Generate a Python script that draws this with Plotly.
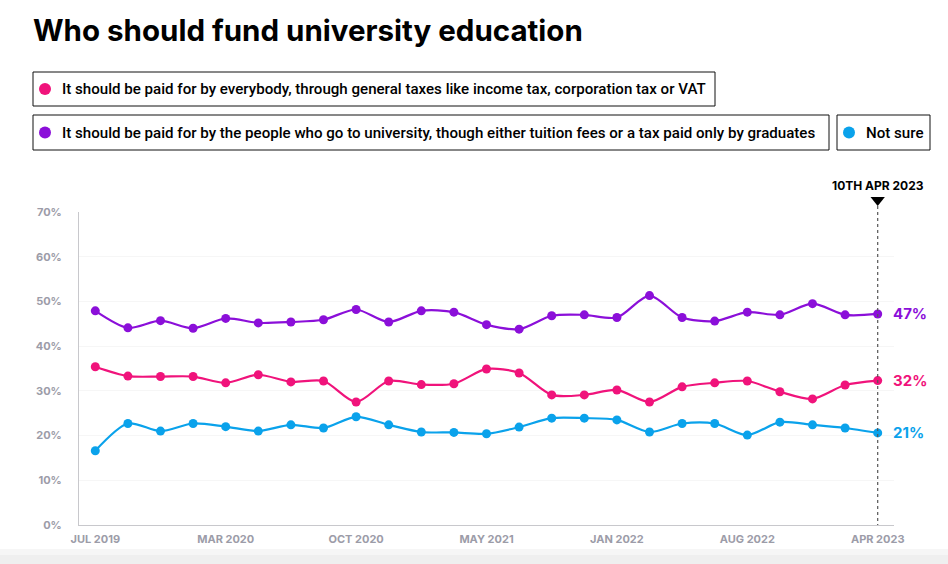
import plotly.graph_objects as go

# ---- data ----
dates = ["Jul 2019", "Sep 2019", "Nov 2019", "Jan 2020", "Mar 2020", "May 2020", "Jul 2020",
         "Aug 2020", "Oct 2020", "Dec 2020", "Jan 2021", "Mar 2021", "May 2021", "Jul 2021",
         "Sep 2021", "Nov 2021", "Jan 2022", "Mar 2022", "Apr 2022", "Jun 2022", "Aug 2022",
         "Oct 2022", "Dec 2022", "Feb 2023", "Apr 2023"]
general_taxes = [35.4, 33.3, 33.2, 33.2, 31.8, 33.6, 32.0, 32.2, 27.5, 32.2, 31.4, 31.6, 34.9,
                 34.0, 29.1, 29.1, 30.2, 27.5, 30.9, 31.8, 32.2, 29.8, 28.2, 31.3, 32.3]
students_pay = [47.9, 44.1, 45.7, 44.0, 46.2, 45.2, 45.4, 45.9, 48.2, 45.4, 47.9, 47.6, 44.8,
                43.8, 46.8, 47.0, 46.4, 51.3, 46.4, 45.6, 47.6, 47.0, 49.5, 47.0, 47.2]
not_sure = [16.6, 22.7, 21.0, 22.7, 22.0, 21.0, 22.4, 21.7, 24.2, 22.4, 20.8, 20.7, 20.4,
            21.9, 23.9, 23.9, 23.5, 20.8, 22.7, 22.7, 20.1, 23.0, 22.4, 21.7, 20.6]
series_names = [
    "It should be paid for by everybody, through general taxes like income tax, corporation tax or VAT",
    "It should be paid for by the people who go to university, though either tuition fees or a tax paid only by graduates",
    "Not sure",
]
end_labels = ["32%", "47%", "21%"]
tick_idx = [0, 4, 8, 12, 16, 20, 24]
tick_text = ["JUL 2019", "MAR 2020", "OCT 2020", "MAY 2021", "JAN 2022", "AUG 2022", "APR 2023"]
y_ticks = [0, 10, 20, 30, 40, 50, 60, 70]
marker_label = "10TH APR 2023"

colors = ["#f0137b", "#8b0fd9", "#0aa2eb"]

W, H = 948, 564
ML, MR, MT, MB = 79, 54, 212, 39
PW, PH = W - ML - MR, H - MT - MB


def px(x):
    return (x - ML) / PW


def py(y):
    return (H - MB - y) / PH


x_idx = list(range(len(dates)))
fig = go.Figure()
for name, vals, c in zip(series_names, [general_taxes, students_pay, not_sure], colors):
    fig.add_trace(go.Scatter(
        x=x_idx, y=vals, name=name, mode="lines+markers",
        line=dict(color=c, width=2.2, shape="spline", smoothing=0.8),
        marker=dict(color=c, size=9),
        customdata=dates, hovertemplate="%{customdata}: %{y:.0f}%<extra></extra>",
        showlegend=False,
    ))

shapes = []
annotations = []

# title
annotations.append(dict(
    text="<b>Who should fund university education</b>", xref="paper", yref="paper",
    x=px(31), y=py(30), xanchor="left", yanchor="middle", showarrow=False,
    font=dict(family="Inter", size=29.5, color="#000000", weight=800),
))

# legend boxes
legend_boxes = [
    (33, 715, 72, 106),
    (33, 829, 115, 150),
    (837, 930, 115, 150),
]
for (x0, x1, y0, y1), name, c in zip(legend_boxes, series_names, colors):
    shapes.append(dict(type="rect", xref="paper", yref="paper",
                       x0=px(x0), x1=px(x1), y0=py(y0), y1=py(y1),
                       line=dict(color="#111111", width=1), fillcolor="white", layer="above"))
    cy = (y0 + y1) / 2
    shapes.append(dict(type="circle", xref="paper", yref="paper",
                       x0=px(x0 + 6), x1=px(x0 + 18), y0=py(cy - 6), y1=py(cy + 6),
                       line=dict(color=c, width=0), fillcolor=c, layer="above"))
    annotations.append(dict(
        text=name, xref="paper", yref="paper", x=px(x0 + 27), y=py(cy),
        xanchor="left", yanchor="middle", showarrow=False,
        font=dict(family="Roboto", size=15.1, color="#000000", weight=500),
    ))

# current-date marker
last = len(dates) - 1
shapes.append(dict(type="line", xref="x", yref="paper", x0=last, x1=last,
                   y0=py(206), y1=0, line=dict(color="#555555", width=1.2, dash="dot")))
shapes.append(dict(type="path", xref="x", yref="paper",
                   path=f"M {last-0.22},{py(197)} L {last+0.22},{py(197)} L {last},{py(206)} Z",
                   fillcolor="#000000", line=dict(width=0)))
annotations.append(dict(
    text=f"<b>{marker_label}</b>", xref="x", yref="paper", x=last, y=py(185),
    xanchor="center", yanchor="middle", showarrow=False,
    font=dict(family="Inter", size=12, color="#000000"),
))

# end labels
for vals, lab, c in zip([general_taxes, students_pay, not_sure], end_labels, colors):
    annotations.append(dict(
        text=f"<b>{lab}</b>", xref="x", yref="y", x=last, y=vals[-1],
        xanchor="left", yanchor="middle", xshift=13, showarrow=False,
        font=dict(family="Inter", size=15, color=c, weight=800),
    ))

# bottom fade band
shapes.append(dict(type="rect", xref="paper", yref="paper", x0=px(0), x1=px(W),
                   y0=py(549), y1=py(564), fillcolor="#f6f6f6", line=dict(width=0), layer="below"))
shapes.append(dict(type="rect", xref="paper", yref="paper", x0=px(0), x1=px(W),
                   y0=py(555), y1=py(564), fillcolor="#efefef", line=dict(width=0), layer="below"))

fig.update_layout(
    width=W, height=H,
    margin=dict(l=ML, r=MR, t=MT, b=MB, pad=0),
    paper_bgcolor="white", plot_bgcolor="white",
    shapes=shapes, annotations=annotations,
    showlegend=False,
    xaxis=dict(
        range=[-0.5, 24.5], tickmode="array", tickvals=tick_idx, ticktext=tick_text,
        showgrid=False, zeroline=False, showline=True, linecolor="#c8c8cc", linewidth=1,
        ticks="", ticklabelstandoff=4,
        tickfont=dict(family="Inter", size=11, color="#9c9ca8", weight=700),
        fixedrange=True,
    ),
    yaxis=dict(
        range=[0, 70], tickmode="array", tickvals=y_ticks,
        ticktext=[f"{v}%" for v in y_ticks],
        showgrid=True, gridcolor="#f6f6f6", zeroline=False,
        showline=True, linecolor="#c8c8cc", linewidth=1,
        ticks="", ticklabelstandoff=14,
        tickfont=dict(family="Inter", size=11, color="#9c9ca8", weight=700),
        fixedrange=True,
    ),
)

fig.write_html("out.html", config={"displayModeBar": False},
               post_script="document.body.style.margin='0px';document.body.style.overflow='hidden';")
